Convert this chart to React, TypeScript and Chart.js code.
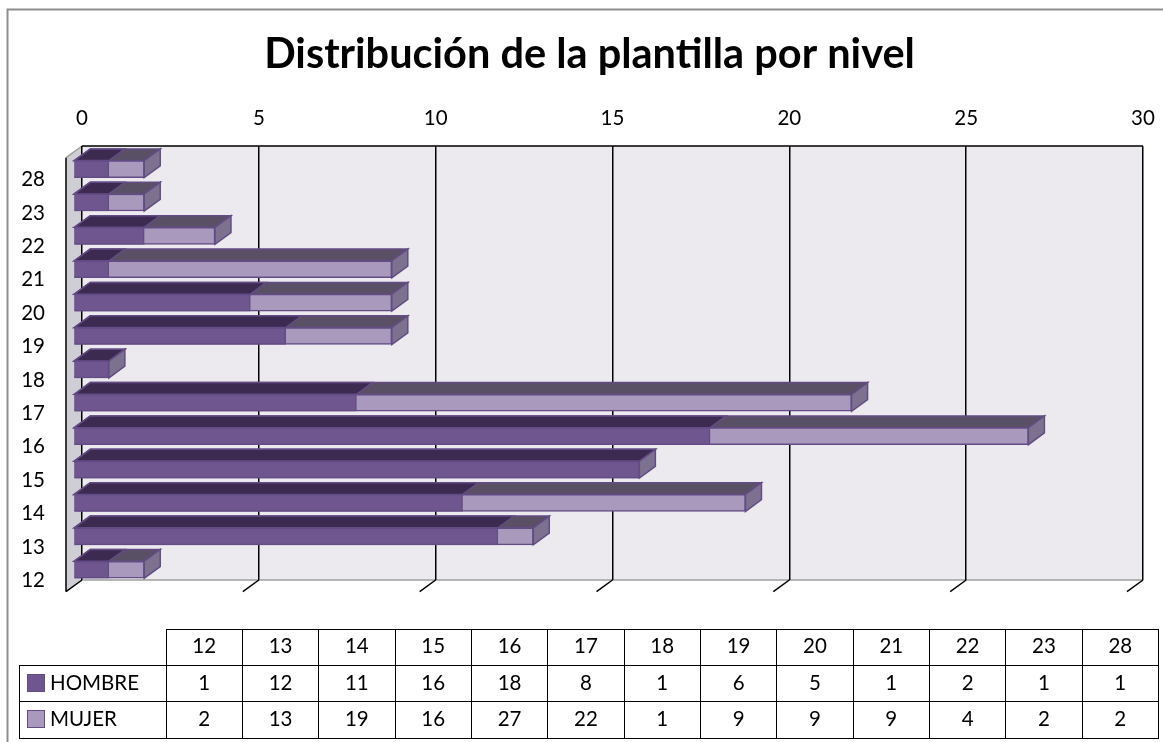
import React, { useEffect, useRef } from "react";
import { Chart, registerables } from "chart.js";

Chart.register(...registerables);

const categories = ["12", "13", "14", "15", "16", "17", "18", "19", "20", "21", "22", "23", "28"];
const hombre = [1, 12, 11, 16, 18, 8, 1, 6, 5, 1, 2, 1, 1];
const mujer = [2, 13, 19, 16, 27, 22, 1, 9, 9, 9, 4, 2, 2];
const xTicks = [0, 5, 10, 15, 20, 25, 30];
const titleText = "Distribución de la plantilla por nivel";

const FONT = "Lato, Carlito, Calibri, sans-serif";
const TICK_SIZE = 20.5;
const DX = 16;
const DY = 11.7;
const FRONT_X = -8.5;
const FRONT_Y = 6.4;

const COLORS = {
  hombreFront: "#70568f",
  hombreTop: "#3d2a50",
  mujerFront: "#a899bd",
  mujerTop: "#5a5066",
  mujerSide: "#7d7190",
  edge: "#634c85",
};

function quad(ctx: CanvasRenderingContext2D, pts: number[][], fill: string) {
  ctx.beginPath();
  pts.forEach((p, i) => (i ? ctx.lineTo(p[0], p[1]) : ctx.moveTo(p[0], p[1])));
  ctx.closePath();
  ctx.fillStyle = fill;
  ctx.fill();
  ctx.strokeStyle = COLORS.edge;
  ctx.lineWidth = 1.5;
  ctx.stroke();
}

const wallPlugin = {
  id: "walls",
  beforeDraw(chart: any) {
    const { ctx, chartArea: a, scales } = chart;
    ctx.save();
    // outer chart border
    ctx.strokeStyle = "#8e8e8e";
    ctx.lineWidth = 2;
    ctx.beginPath();
    ctx.moveTo(7.5, chart.height);
    ctx.lineTo(7.5, 9.5);
    ctx.lineTo(chart.width, 9.5);
    ctx.stroke();
    // back wall
    ctx.fillStyle = "#eceaef";
    ctx.fillRect(a.left, a.top, a.right - a.left, a.bottom - a.top);
    // left wall
    ctx.beginPath();
    ctx.moveTo(a.left, a.top);
    ctx.lineTo(a.left - DX, a.top + DY);
    ctx.lineTo(a.left - DX, a.bottom + DY);
    ctx.lineTo(a.left, a.bottom);
    ctx.closePath();
    ctx.fillStyle = "#d0ced5";
    ctx.fill();
    // back-wall floor edge and the top edge of the left wall
    ctx.strokeStyle = "#a0a0a0";
    ctx.lineWidth = 1.5;
    ctx.beginPath();
    ctx.moveTo(a.left, a.bottom);
    ctx.lineTo(a.right, a.bottom);
    ctx.moveTo(a.left, a.top);
    ctx.lineTo(a.left - DX, a.top + DY);
    ctx.stroke();
    // front edge and slanted ticks
    ctx.strokeStyle = "#000";
    ctx.lineWidth = 1.5;
    ctx.beginPath();
    ctx.moveTo(a.left - DX, a.top + DY);
    ctx.lineTo(a.left - DX, a.bottom + DY);
    xTicks.forEach((v) => {
      const x = scales.x.getPixelForValue(v);
      ctx.moveTo(x, a.bottom);
      ctx.lineTo(x - DX, a.bottom + DY);
    });
    // top edge of the back wall
    ctx.moveTo(a.left, a.top);
    ctx.lineTo(a.right, a.top);
    ctx.stroke();
    ctx.restore();
  },
  beforeDatasetDraw(chart: any, args: any) {
    const { ctx } = chart;
    const isMujer = args.index === 1;
    ctx.save();
    ctx.translate(FRONT_X, FRONT_Y);
    args.meta.data.forEach((bar: any) => {
      const p = bar.getProps(["x", "y", "base", "height"], true);
      const top = p.y - p.height / 2;
      const bottom = p.y + p.height / 2;
      quad(
        ctx,
        [
          [p.base, top],
          [p.base + DX, top - DY],
          [p.x + DX, top - DY],
          [p.x, top],
        ],
        isMujer ? COLORS.mujerTop : COLORS.hombreTop
      );
      if (isMujer) {
        quad(
          ctx,
          [
            [p.x, top],
            [p.x + DX, top - DY],
            [p.x + DX, bottom - DY],
            [p.x, bottom],
          ],
          COLORS.mujerSide
        );
      }
    });
  },
  afterDatasetDraw(chart: any) {
    chart.ctx.restore();
  },
};

export default function App() {
  const ref = useRef<HTMLCanvasElement>(null);

  useEffect(() => {
    document.body.style.margin = "0";
    const chart = new Chart(ref.current as HTMLCanvasElement, {
      type: "bar",
      data: {
        labels: categories,
        datasets: [
          {
            label: "HOMBRE",
            data: hombre,
            backgroundColor: COLORS.hombreFront,
            borderColor: COLORS.edge,
            borderWidth: 1.5,
            grouped: false,
            barThickness: 17,
          },
          {
            label: "MUJER",
            data: mujer,
            backgroundColor: COLORS.mujerFront,
            borderColor: COLORS.edge,
            borderWidth: 1.5,
            grouped: false,
            barThickness: 17,
          },
        ],
      },
      options: {
        indexAxis: "y",
        animation: false,
        responsive: false,
        layout: { padding: { left: 16, right: 0, top: 0, bottom: 162 } },
        plugins: {
          legend: { display: false },
          tooltip: { enabled: false },
          title: {
            display: true,
            text: titleText,
            color: "#000",
            font: { family: FONT, size: 41.5, weight: "bold" },
            padding: { top: 30, bottom: 0 },
          },
        },
        scales: {
          x: {
            position: "top",
            min: 0,
            max: 30,
            afterFit: (s: any) => {
              s.height = 66.2;
              s.paddingRight = 0;
              s.paddingLeft = 0;
            },
            ticks: {
              stepSize: 5,
              color: "#000",
              font: { family: FONT, size: TICK_SIZE },
              padding: 15,
              maxRotation: 0,
            },
            grid: { color: "#000", lineWidth: 1.5, drawTicks: false },
            border: { display: false },
          },
          y: {
            reverse: true,
            afterFit: (s: any) => {
              s.width = 66;
            },
            ticks: {
              color: "#000",
              font: { family: FONT, size: TICK_SIZE },
              padding: 37,
              labelOffset: 17,
              autoSkip: false,
            },
            grid: { display: false, drawTicks: false },
            border: { display: false },
          },
          gutter: {
            type: "linear",
            position: "right",
            axis: "y",
            afterFit: (s: any) => {
              s.width = 20;
            },
            ticks: { display: false },
            grid: { display: false, drawTicks: false },
            border: { display: false },
          },
        },
      },
      plugins: [wallPlugin],
    } as any);
    return () => chart.destroy();
  }, []);

  const cell: React.CSSProperties = {
    border: "1.5px solid #000",
    textAlign: "center",
    padding: "0 0 4px 0",
    width: 76.35,
    boxSizing: "border-box",
  };
  const nameCell: React.CSSProperties = { ...cell, width: 146.5, textAlign: "left", paddingLeft: 7, whiteSpace: "nowrap" };
  const swatch = (c: string): React.CSSProperties => ({
    display: "inline-block",
    width: 16,
    height: 16,
    background: c,
    border: `1px solid ${COLORS.edge}`,
    marginRight: 5,
    verticalAlign: "-2px",
  });
  const rowH = 36.4;

  return (
    <div style={{ position: "relative", width: 1163, height: 742, overflow: "hidden" }}>
      <canvas ref={ref} width={1163} height={742} style={{ display: "block" }} />
      <table
        style={{
          position: "absolute",
          left: 19,
          top: 628.5,
          borderCollapse: "collapse",
          tableLayout: "fixed",
          width: 1139,
          fontFamily: FONT,
          fontSize: TICK_SIZE,
          color: "#000",
        }}
      >
        <tbody>
          <tr style={{ height: rowH }}>
            <td style={{ ...nameCell, borderLeft: "none", borderTop: "none" }} />
            {categories.map((c) => (
              <td key={c} style={cell}>{c}</td>
            ))}
          </tr>
          <tr style={{ height: rowH }}>
            <td style={nameCell}><span style={swatch(COLORS.hombreFront)} />HOMBRE</td>
            {hombre.map((v, i) => (
              <td key={i} style={cell}>{v}</td>
            ))}
          </tr>
          <tr style={{ height: rowH }}>
            <td style={nameCell}><span style={swatch(COLORS.mujerFront)} />MUJER</td>
            {mujer.map((v, i) => (
              <td key={i} style={cell}>{v}</td>
            ))}
          </tr>
        </tbody>
      </table>
    </div>
  );
}
